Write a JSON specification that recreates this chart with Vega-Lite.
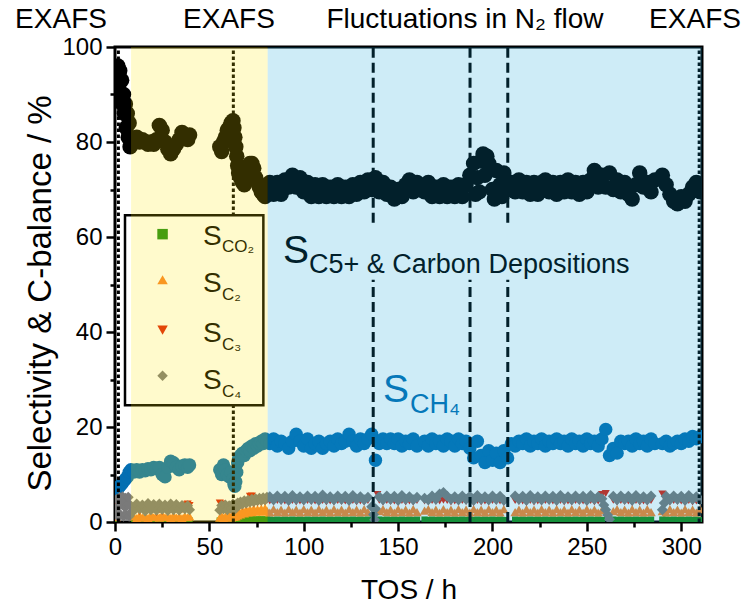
{
"$schema": "https://vega.github.io/schema/vega-lite/v6.json",
"width": 587, "height": 475,
"autosize": {"type": "none"},
"padding": {"left": 115, "top": 47, "right": 42, "bottom": 89},
"background": "white",
"config": {"font": "Liberation Sans", "view": {"stroke": "#000000", "strokeWidth": 3}},
"resolve": {"axis": {"y": "independent"}},
"datasets": {
"series": [
{"TOS":0.5,"C5":93,"CH4":6.5,"C4":2.5,"C3":4,"C2":1,"CO2":0.3},
{"TOS":1,"C5":95.5,"C4":4.8},
{"TOS":1.5,"C5":96,"CH4":7,"C4":1.2,"C3":2.8},
{"TOS":2,"C5":92,"C4":3.5},
{"TOS":2.5,"C5":95,"CH4":7.5,"C4":5.2},
{"TOS":3,"C5":90,"C4":1.5},
{"TOS":3.5,"C5":93,"CH4":8,"C4":3.8},
{"TOS":4,"C5":88,"C4":5.3},
{"TOS":4.5,"C5":90,"CH4":8.5,"C4":1.2},
{"TOS":5,"C5":86,"C4":3.2},
{"TOS":5.5,"C5":88,"CH4":9,"C4":5},
{"TOS":6,"C5":83,"C4":1.5},
{"TOS":6.5,"C5":86,"CH4":9.5,"C4":3.5},
{"TOS":7,"C5":81,"C4":5.2},
{"TOS":7.5,"C5":84,"CH4":10.5,"C4":1.2},
{"TOS":8,"C5":79,"C4":3.6},
{"TOS":8.5,"C5":80,"CH4":11,"C4":2},
{"TOS":10,"C5":80.5,"CH4":10.5,"C4":2.4,"C3":2.0,"C2":1.2,"CO2":0.3},
{"TOS":11.5,"C5":81,"CH4":11,"C4":3.8,"C3":2.6,"C2":0.8,"CO2":0.3},
{"TOS":13,"C5":80,"CH4":10.5,"C4":2.8,"C3":2.2,"C2":1.4,"CO2":0.3},
{"TOS":14.5,"C5":80.5,"CH4":11,"C4":3.6,"C3":2.8,"C2":0.9,"CO2":0.3},
{"TOS":16,"C5":80,"CH4":10.8,"C4":2.3,"C3":2.1,"C2":1.3,"CO2":0.3},
{"TOS":17.5,"C5":79.5,"CH4":11.2,"C4":3.9,"C3":2.5,"C2":0.8,"CO2":0.3},
{"TOS":19,"C5":80,"CH4":11,"C4":2.6,"C3":2.3,"C2":1.5,"CO2":0.3},
{"TOS":20.5,"C5":79.5,"CH4":11.5,"C4":3.7,"C3":2.7,"C2":1.0,"CO2":0.3},
{"TOS":22,"C5":80.5,"CH4":11.2,"C4":2.5,"C3":2.0,"C2":1.4,"CO2":0.3},
{"TOS":23.5,"C5":83.5,"CH4":11.5,"C4":3.8,"C3":2.6,"C2":0.9,"CO2":0.3},
{"TOS":25,"C5":82.5,"CH4":10,"C4":2.7,"C3":2.2,"C2":1.5,"CO2":0.3},
{"TOS":26.5,"C5":80,"CH4":9.5,"C4":3.6,"C3":2.8,"C2":1.0,"CO2":0.3},
{"TOS":28,"C5":78.5,"CH4":11.5,"C4":2.4,"C3":2.1,"C2":1.3,"CO2":0.3},
{"TOS":29.5,"C5":77.5,"CH4":12.8,"C4":3.8,"C3":2.5,"C2":0.8,"CO2":0.3},
{"TOS":31,"C5":78.5,"CH4":12.5,"C4":2.6,"C3":2.3,"C2":1.4,"CO2":0.3},
{"TOS":32.5,"C5":79.5,"CH4":11.5,"C4":3.7,"C3":2.7,"C2":0.9,"CO2":0.3},
{"TOS":34,"C5":80.5,"CH4":11,"C4":2.5,"C3":2.1,"C2":1.2,"CO2":0.3},
{"TOS":35.5,"C5":82,"CH4":11.8,"C4":3.5,"C3":2.6,"C2":0.8,"CO2":0.3},
{"TOS":37,"C5":81.5,"CH4":12,"C4":2.8,"C3":3.6,"C2":1.3,"CO2":0.3},
{"TOS":38.5,"C5":80.5,"CH4":11.5,"C4":3.4,"C3":3.8,"C2":1.0,"CO2":0.3},
{"TOS":39.5,"C5":81.5,"CH4":12,"C4":2.6,"C3":3.5,"C2":1.2,"CO2":0.3},
{"TOS":55.5,"C5":79,"CH4":11,"C4":2.5,"C3":4.0,"C2":0.9,"CO2":0.3},
{"TOS":56.5,"C5":78,"CH4":10,"C4":3.5,"C3":3.8,"C2":1.3,"CO2":0.3},
{"TOS":57.5,"C5":80,"CH4":12,"C4":2.8,"C3":2.4,"C2":0.8,"CO2":0.3},
{"TOS":58.5,"C5":81,"CH4":11,"C4":3.6,"C3":3.0,"C2":1.2,"CO2":0.3},
{"TOS":59.5,"C5":82.5,"CH4":10,"C4":2.6,"C3":2.2,"C2":1.0,"CO2":0.3},
{"TOS":60.5,"C5":83,"CH4":9.5,"C4":3.4,"C3":2.9,"C2":1.4,"CO2":0.3},
{"TOS":61.5,"C5":84,"CH4":10.5,"C4":2.9,"C3":2.4,"C2":0.9,"CO2":0.3},
{"TOS":62.5,"C5":84.5,"CH4":9,"C4":3.8,"C3":3.2,"C2":1.5,"CO2":0.3},
{"TOS":63,"C5":83,"CH4":8,"C4":3.2,"C3":2.8,"C2":1.1,"CO2":0.3},
{"TOS":63.5,"C5":81,"CH4":7.5,"C4":2.7,"C3":2.3,"C2":1.6,"CO2":0.3},
{"TOS":64,"C5":79,"CH4":8.5,"C4":3.6,"C3":3.1,"C2":1.2,"CO2":0.4},
{"TOS":64.5,"C5":77,"CH4":10.5,"C4":3.1,"C3":2.7,"C2":1.9,"CO2":0.4},
{"TOS":65,"C5":75,"CH4":12.5,"C4":4.0,"C3":3.4,"C2":1.4,"CO2":0.4},
{"TOS":65.5,"C5":73.5,"CH4":13.5,"C4":3.5,"C3":3.0,"C2":2.2,"CO2":0.4},
{"TOS":66.5,"C5":72.5,"CH4":14,"C4":4.2,"C3":3.7,"C2":1.6,"CO2":0.4},
{"TOS":67.5,"C5":71.5,"CH4":14.5,"C4":3.8,"C3":3.3,"C2":2.4,"CO2":0.5},
{"TOS":68.5,"C5":71,"CH4":14,"C4":4.5,"C3":3.9,"C2":1.8,"CO2":0.5},
{"TOS":69.5,"C5":72,"CH4":15,"C4":4.0,"C3":3.5,"C2":2.6,"CO2":0.5},
{"TOS":70.5,"C5":74,"CH4":15.5,"C4":4.6,"C3":4.0,"C2":2.0,"CO2":0.5},
{"TOS":71.5,"C5":75.5,"CH4":15,"C4":4.2,"C3":5.4,"C2":2.7,"CO2":0.5},
{"TOS":72.5,"C5":75.5,"CH4":16,"C4":4.8,"C3":5.5,"C2":2.1,"CO2":0.5},
{"TOS":73.5,"C5":74.5,"CH4":15.5,"C4":4.3,"C3":3.8,"C2":2.8,"CO2":0.5},
{"TOS":74.5,"C5":72.5,"CH4":16.5,"C4":4.9,"C3":4.3,"C2":2.2,"CO2":0.5},
{"TOS":75.5,"C5":71.5,"CH4":16,"C4":4.5,"C3":4.0,"C2":2.7,"CO2":0.5},
{"TOS":76.5,"C5":70.5,"CH4":16.5,"C4":5.0,"C3":4.4,"C2":2.3,"CO2":0.5},
{"TOS":77.5,"C5":69.5,"CH4":17,"C4":4.6,"C3":4.1,"C2":2.8,"CO2":0.5},
{"TOS":78.5,"C5":69,"CH4":16.5,"C4":5.1,"C3":4.5,"C2":2.2,"CO2":0.5},
{"TOS":79.5,"C5":68.5,"CH4":17.5,"C4":4.7,"C3":4.2,"C2":2.9,"CO2":0.5},
{"TOS":80.5,"C5":69.5,"CH4":17,"C4":5.2,"C3":4.6,"C2":2.4,"CO2":0.5},
{"TOS":82,"C5":71.5,"CH4":16.5,"C4":5.3,"C3":4.4,"C2":2.0,"CO2":0.5},
{"TOS":84,"C5":69,"CH4":17.5,"C4":4.7,"C3":4.2,"C2":2.7,"CO2":0.4},
{"TOS":86,"C5":71.5,"CH4":16,"C4":5.5,"C3":4.5,"C2":2.1,"CO2":0.5},
{"TOS":88,"C5":69,"CH4":17,"C4":4.8,"C3":4.3,"C2":2.6,"CO2":0.4},
{"TOS":90,"C5":72,"CH4":16.5,"C4":5.4,"C3":4.4,"C2":2.0,"CO2":0.5},
{"TOS":92,"C5":70.5,"CH4":15.5,"C4":4.6,"C3":4.1,"C2":2.7,"CO2":0.4},
{"TOS":94,"C5":73,"CH4":17,"C4":5.6,"C3":4.5,"C2":2.1,"CO2":0.5},
{"TOS":96,"C5":70.5,"CH4":18.5,"C4":4.8,"C3":4.2,"C2":2.6,"CO2":0.4},
{"TOS":98,"C5":72.5,"CH4":17,"C4":5.3,"C3":4.4,"C2":2.0,"CO2":0.5},
{"TOS":100,"C5":69.5,"CH4":16,"C4":4.7,"C3":4.2,"C2":2.7,"CO2":0.4},
{"TOS":102,"C5":71.5,"CH4":17.5,"C4":5.5,"C3":4.5,"C2":2.1,"CO2":0.5},
{"TOS":104,"C5":68.5,"CH4":15.5,"C4":4.8,"C3":4.3,"C2":2.6,"CO2":0.4},
{"TOS":106,"C5":71,"CH4":16.5,"C4":5.4,"C3":4.4,"C2":2.0,"CO2":0.5},
{"TOS":108,"C5":68.5,"CH4":17,"C4":4.6,"C3":4.1,"C2":2.7,"CO2":0.4},
{"TOS":110,"C5":71,"CH4":15.5,"C4":5.7,"C3":4.5,"C2":2.1,"CO2":0.5},
{"TOS":112,"C5":68.5,"CH4":16.5,"C4":4.8,"C3":4.2,"C2":2.6,"CO2":0.4},
{"TOS":114,"C5":70.5,"CH4":17,"C4":5.3,"C3":4.4,"C2":2.0,"CO2":0.5},
{"TOS":116,"C5":68.5,"CH4":16,"C4":4.7,"C3":4.2,"C2":2.7,"CO2":0.4},
{"TOS":118,"C5":71,"CH4":17.5,"C4":5.5,"C3":4.5,"C2":2.1,"CO2":0.5},
{"TOS":120,"C5":68.5,"CH4":16.5,"C4":4.8,"C3":4.3,"C2":2.6,"CO2":0.4},
{"TOS":122,"C5":70.5,"CH4":17,"C4":5.4,"C3":4.4,"C2":2.0,"CO2":0.5},
{"TOS":124,"C5":68.5,"CH4":18.5,"C4":4.6,"C3":4.1,"C2":2.7,"CO2":0.4},
{"TOS":126,"C5":71,"CH4":17,"C4":5.6,"C3":4.5,"C2":2.1,"CO2":0.5},
{"TOS":128,"C5":69,"CH4":16,"C4":4.8,"C3":4.2,"C2":2.6,"CO2":0.4},
{"TOS":130,"C5":71.5,"CH4":17.5,"C4":5.3,"C3":4.4,"C2":2.0,"CO2":0.5},
{"TOS":132,"C5":69.5,"CH4":16.5,"C4":4.7,"C3":4.2,"C2":2.7,"CO2":0.4},
{"TOS":134,"C5":72,"CH4":17.5,"C4":5.2,"C3":4.5,"C2":2.1,"CO2":0.5},
{"TOS":136,"C5":70,"CH4":18.5,"C4":3.2},
{"TOS":137,"C4":1.6},
{"TOS":137.5,"C4":0.5},
{"TOS":138,"C5":72.5,"CH4":13,"C4":2.8},
{"TOS":139,"C3":5.8},
{"TOS":140,"C5":69.5,"CH4":16.5,"C4":5.3,"C3":4.6,"C2":2.3,"CO2":0.5},
{"TOS":142,"C5":71.5,"CH4":17.5,"C4":4.7,"C3":4.2,"C2":2.7,"CO2":0.4},
{"TOS":144,"C5":69,"CH4":16.5,"C4":5.5,"C3":4.5,"C2":2.1,"CO2":0.5},
{"TOS":146,"C5":70.5,"CH4":17.5,"C4":4.8,"C3":4.3,"C2":2.6,"CO2":0.4},
{"TOS":148,"C5":68,"CH4":16.5,"C4":5.4,"C3":4.4,"C2":2.0,"CO2":0.5},
{"TOS":150,"C5":70,"CH4":17.5,"C4":4.6,"C3":4.1,"C2":2.7,"CO2":0.4},
{"TOS":152,"C5":68.5,"CH4":16,"C4":5.6,"C3":4.5,"C2":2.1,"CO2":0.5},
{"TOS":154,"C5":71,"CH4":17,"C4":4.8,"C3":4.2,"C2":2.6,"CO2":0.4},
{"TOS":156,"C5":72,"CH4":16.5,"C4":5.3,"C3":4.4,"C2":2.0,"CO2":0.5},
{"TOS":158,"C5":69.5,"CH4":17.5,"C4":4.7,"C3":4.2,"C2":2.7,"CO2":0.4},
{"TOS":160,"C5":71.5,"CH4":16,"C4":5.2,"C3":4.5,"C2":2.1,"CO2":0.5},
{"TOS":164,"C5":69.5,"CH4":17,"C4":5.0,"C3":4.4,"C2":2.4,"CO2":0.5},
{"TOS":166,"C5":71.5,"CH4":16,"C4":4.7,"C3":4.2,"C2":2.7,"CO2":0.4},
{"TOS":168,"C5":68.5,"CH4":17.5,"C4":5.5,"C3":4.5,"C2":2.1,"CO2":0.5},
{"TOS":170,"C5":70.5,"CH4":16.5,"C4":4.8,"C3":4.3,"C2":2.6,"CO2":0.4},
{"TOS":172,"C5":68.5,"CH4":17,"C4":5.9,"C3":4.4,"C2":2.0,"CO2":0.5},
{"TOS":174,"C5":71,"CH4":16,"C4":6.2,"C3":4.6,"C2":2.7,"CO2":0.4},
{"TOS":176,"C5":68.5,"CH4":17.5,"C4":5.4,"C3":4.5,"C2":2.1,"CO2":0.5},
{"TOS":178,"C5":70.5,"CH4":17,"C4":4.8,"C3":4.2,"C2":2.6,"CO2":0.4},
{"TOS":180,"C5":68.5,"CH4":16,"C4":5.3,"C3":4.4,"C2":2.0,"CO2":0.5},
{"TOS":182,"C5":71,"CH4":17.5,"C4":4.7,"C3":4.2,"C2":2.7,"CO2":0.4},
{"TOS":184,"C5":68.5,"CH4":16.5,"C4":5.5,"C3":4.5,"C2":2.1,"CO2":0.5},
{"TOS":186,"C5":71,"CH4":17,"C4":4.8,"C3":4.3,"C2":2.6,"CO2":0.4},
{"TOS":188,"C5":73,"CH4":15.5,"C4":5.4,"C3":4.4,"C2":2.0,"CO2":0.5},
{"TOS":190,"C5":75.5,"CH4":13.5,"C4":4.6,"C3":4.1,"C2":2.7,"CO2":0.4},
{"TOS":191,"C5":69},
{"TOS":192,"C5":72.5,"CH4":17,"C4":5.6,"C3":4.5,"C2":2.1,"CO2":0.5},
{"TOS":193,"C5":69.5},
{"TOS":194,"C5":76,"CH4":14,"C4":4.8,"C3":4.2,"C2":2.6,"CO2":0.4},
{"TOS":195,"C5":77.5},
{"TOS":196,"C5":73,"CH4":12.5,"C4":5.3,"C3":4.4,"C2":2.0,"CO2":0.5},
{"TOS":197,"C5":77},
{"TOS":198,"C5":75.5,"CH4":15,"C4":4.7,"C3":4.2,"C2":2.7,"CO2":0.4},
{"TOS":200,"C5":70,"CH4":13,"C4":5.5,"C3":4.5,"C2":2.1,"CO2":0.5},
{"TOS":201,"C5":68},
{"TOS":202,"C5":74,"CH4":14.5,"C4":4.8,"C3":4.3,"C2":2.6,"CO2":0.4},
{"TOS":204,"C5":71,"CH4":12.5,"C4":5.4,"C3":4.4,"C2":2.0,"CO2":0.5},
{"TOS":205,"C5":68.5},
{"TOS":206,"C5":73.5,"CH4":15,"C4":4.6,"C3":4.1,"C2":2.7,"CO2":0.4},
{"TOS":208,"C5":71,"CH4":13.5},
{"TOS":210,"C5":71.5,"CH4":16.5},
{"TOS":212,"C5":69.5,"CH4":16,"C4":5.5,"C3":4.5,"C2":2.1,"CO2":0.5},
{"TOS":214,"C5":72,"CH4":17,"C4":4.8,"C3":4.3,"C2":2.6,"CO2":0.4},
{"TOS":216,"C5":69.5,"CH4":16.5,"C4":5.4,"C3":4.4,"C2":2.0,"CO2":0.5},
{"TOS":218,"C5":71.5,"CH4":17.5,"C4":4.6,"C3":4.1,"C2":2.7,"CO2":0.4},
{"TOS":220,"C5":69,"CH4":16,"C4":5.6,"C3":4.5,"C2":2.1,"CO2":0.5},
{"TOS":222,"C5":71.5,"CH4":17,"C4":4.8,"C3":4.2,"C2":2.6,"CO2":0.4},
{"TOS":224,"C5":69,"CH4":16.5,"C4":5.3,"C3":4.4,"C2":2.0,"CO2":0.5},
{"TOS":226,"C5":71.5,"CH4":17.5,"C4":4.7,"C3":4.2,"C2":2.7,"CO2":0.4},
{"TOS":228,"C5":72,"CH4":16,"C4":5.5,"C3":4.5,"C2":2.1,"CO2":0.5},
{"TOS":230,"C5":69.5,"CH4":17,"C4":4.8,"C3":4.3,"C2":2.6,"CO2":0.4},
{"TOS":232,"C5":71.5,"CH4":16.5,"C4":5.4,"C3":4.4,"C2":2.0,"CO2":0.5},
{"TOS":234,"C5":69,"CH4":17.5,"C4":4.6,"C3":4.1,"C2":2.7,"CO2":0.4},
{"TOS":236,"C5":71.5,"CH4":16.5,"C4":5.6,"C3":4.5,"C2":2.1,"CO2":0.5},
{"TOS":238,"C5":69.5,"CH4":17,"C4":4.8,"C3":4.2,"C2":2.6,"CO2":0.4},
{"TOS":240,"C5":72,"CH4":16,"C4":5.3,"C3":4.4,"C2":2.0,"CO2":0.5},
{"TOS":242,"C5":69.5,"CH4":17.5,"C4":4.7,"C3":4.2,"C2":2.7,"CO2":0.4},
{"TOS":244,"C5":71.5,"CH4":16.5,"C4":5.5,"C3":4.5,"C2":2.1,"CO2":0.5},
{"TOS":246,"C5":69,"CH4":17,"C4":4.8,"C3":4.3,"C2":2.6,"CO2":0.4},
{"TOS":248,"C5":71.5,"CH4":16,"C4":5.4,"C3":4.4,"C2":2.0,"CO2":0.5},
{"TOS":250,"C5":69.5,"CH4":17.5,"C4":4.6,"C3":4.1,"C2":2.7,"CO2":0.4},
{"TOS":252,"C5":72,"CH4":16.5,"C4":5.6,"C3":4.5,"C2":2.1,"CO2":0.5},
{"TOS":254,"C5":74,"CH4":17,"C4":4.8,"C3":4.2,"C2":2.6,"CO2":0.4},
{"TOS":256,"C5":70.5,"CH4":16,"C4":5.3,"C3":4.4,"C2":2.0,"CO2":0.5},
{"TOS":258,"C5":73,"CH4":17.5,"C4":4.9,"C3":5.8,"C2":2.5,"CO2":0.4},
{"TOS":259,"C4":3.6},
{"TOS":260,"C5":70.5,"CH4":19.5,"C4":2.6,"C3":6.0},
{"TOS":261,"C4":1.5},
{"TOS":262,"C5":73.5,"CH4":14,"C4":0.6},
{"TOS":264,"C5":70,"CH4":15.5,"C4":5.4,"C3":4.6,"C2":2.3,"CO2":0.5},
{"TOS":266,"C5":72,"CH4":14.5,"C4":4.7,"C3":4.2,"C2":2.7,"CO2":0.4},
{"TOS":268,"C5":69.5,"CH4":17,"C4":5.5,"C3":4.5,"C2":2.1,"CO2":0.5},
{"TOS":270,"C5":71.5,"CH4":16.5,"C4":4.8,"C3":4.3,"C2":2.6,"CO2":0.4},
{"TOS":272,"C5":69,"CH4":17,"C4":5.4,"C3":4.4,"C2":2.0,"CO2":0.5},
{"TOS":274,"C5":68,"CH4":16,"C4":4.6,"C3":4.1,"C2":2.7,"CO2":0.4},
{"TOS":276,"C5":71,"CH4":17.5,"C4":5.6,"C3":4.5,"C2":2.1,"CO2":0.5},
{"TOS":278,"C5":73.5,"CH4":16.5,"C4":4.8,"C3":4.2,"C2":2.6,"CO2":0.4},
{"TOS":280,"C5":70.5,"CH4":17,"C4":5.3,"C3":4.4,"C2":2.0,"CO2":0.5},
{"TOS":282,"C5":71.5,"CH4":16,"C4":4.7,"C3":4.2,"C2":2.7,"CO2":0.4},
{"TOS":284,"C5":69.5,"CH4":17.5,"C4":5.5,"C3":4.5,"C2":2.1,"CO2":0.5},
{"TOS":286,"C5":72,"CH4":16.5},
{"TOS":290,"C5":73,"CH4":16.5,"C4":2.6,"C3":5.9,"C2":2.3,"CO2":0.5},
{"TOS":291,"C4":4.0},
{"TOS":292,"C5":71,"CH4":17,"C4":5.4,"C3":4.4,"C2":2.0,"CO2":0.5},
{"TOS":294,"C5":69,"CH4":16,"C4":4.7,"C3":4.2,"C2":2.7,"CO2":0.4},
{"TOS":296,"C5":67.5,"CH4":16.5,"C4":5.5,"C3":4.5,"C2":2.1,"CO2":0.5},
{"TOS":298,"C5":67,"CH4":17,"C4":4.8,"C3":4.3,"C2":2.6,"CO2":0.4},
{"TOS":300,"C5":68.5,"CH4":16.5,"C4":5.4,"C3":4.4,"C2":2.0,"CO2":0.5},
{"TOS":302,"C5":67.5,"CH4":17.5,"C4":4.6,"C3":4.1,"C2":2.7,"CO2":0.4},
{"TOS":304,"C5":69,"CH4":17,"C4":5.6,"C3":4.5,"C2":2.1,"CO2":0.5},
{"TOS":306,"C5":70.5,"CH4":18,"C4":4.8,"C3":4.2,"C2":2.6,"CO2":0.4},
{"TOS":308,"C5":71.5,"CH4":17.5,"C4":5.3,"C3":4.4,"C2":2.0,"CO2":0.5},
{"TOS":310,"C5":69.5,"CH4":18,"C4":4.7,"C3":4.2,"C2":2.7,"CO2":0.4}
],
"dotted": [{"TOS":1.8,"lo":0,"hi":100},{"TOS":62.7,"lo":0,"hi":100},{"TOS":309.5,"lo":0,"hi":100}],
"dashed": [{"TOS":136.8,"lo":0,"hi":51},{"TOS":136.8,"lo":63,"hi":100},{"TOS":188.1,"lo":0,"hi":51},{"TOS":188.1,"lo":63,"hi":100},{"TOS":208.1,"lo":0,"hi":51},{"TOS":208.1,"lo":63,"hi":100}],
"zoneYellow": [{"TOS":8.5,"TOS_end":80.9}],
"zoneBlue": [{"TOS":80.9,"TOS_end":311}],
"legendBox": [{"TOS":5.3,"TOS_end":78.6}],
"legendSymbols": [{"TOS":25.2,"v":60.6,"series":"CO2"},{"TOS":25.2,"v":51,"series":"C2"},{"TOS":25.2,"v":40.4,"series":"C3"},{"TOS":25.2,"v":30.8,"series":"C4"}],
"legendS": [{"TOS":46.6,"v":58.3,"label":"S"},{"TOS":46.6,"v":48.5,"label":"S"},{"TOS":46.6,"v":38,"label":"S"},{"TOS":46.6,"v":28.1,"label":"S"}],
"legendSub": [{"TOS":56.7,"v":56.8,"label":"CO₂"},{"TOS":56.7,"v":46.7,"label":"C₂"},{"TOS":56.7,"v":36.2,"label":"C₃"},{"TOS":56.7,"v":26.4,"label":"C₄"}],
"bigS": [{"TOS":89,"v":54.5,"label":"S","series":"C5"},{"TOS":142,"v":25.3,"label":"S","series":"CH4"}],
"bigSub": [{"TOS":102.8,"v":52.4,"label":"C5+ & Carbon Depositions","series":"C5"},{"TOS":156.3,"v":22.9,"label":"CH₄","series":"CH4"}],
"tops": [{"TOS":-28.6,"v":104.0,"label":"EXAFS"},{"TOS":60.4,"v":104.0,"label":"EXAFS"},{"TOS":185.4,"v":104.0,"label":"Fluctuations in N₂ flow"},{"TOS":307.3,"v":104.0,"label":"EXAFS"}]
},
"encoding": {
"x": {"field": "TOS", "type": "quantitative",
 "scale": {"domain": [0, 311], "nice": false, "zero": false},
 "axis": {"values": [0,25,50,75,100,125,150,175,200,225,250,275,300],
  "labelExpr": "datum.value % 50 === 0 ? datum.label : ''",
  "tickSize": {"condition": {"test": "datum.value % 50 === 0", "value": 9}, "value": 5},
  "tickWidth": 2.5, "tickColor": "#000000", "domain": false, "grid": false,
  "labelFontSize": 24, "labelColor": "#000000", "labelPadding": 4, "labelFlush": false, "labelOverlap": false,
  "title": "TOS / h", "titleFontSize": 28, "titleFontWeight": "normal", "titleColor": "#000000", "titlePadding": 17}}
},
"layer": [
{"data": {"name": "series"},
 "mark": {"type": "circle", "size": 240, "color": "#000000", "opacity": 1, "clip": true},
 "encoding": {"y": {"field": "C5", "type": "quantitative",
  "scale": {"domain": [0, 100], "nice": false, "zero": false},
  "axis": {"orient": "left", "values": [0,10,20,30,40,50,60,70,80,90,100],
   "labelExpr": "datum.value % 20 === 0 ? datum.label : ''",
   "tickSize": {"condition": {"test": "datum.value % 20 === 0", "value": 9}, "value": 5},
   "tickWidth": 2.5, "tickColor": "#000000", "domain": false, "grid": false,
   "labelFontSize": 24, "labelColor": "#000000", "labelPadding": 4, "labelFlush": false, "labelOverlap": false,
   "title": "Selectivity & C-balance / %", "titleFontSize": 33, "titleFontWeight": "normal", "titleColor": "#000000", "titlePadding": 4, "titleY": 246}}}},
{"data": {"name": "series"},
 "mark": {"type": "circle", "size": 180, "color": "#046eb2", "opacity": 1, "clip": true},
 "encoding": {"y": {"field": "CH4", "type": "quantitative", "scale": {"domain": [0, 100], "nice": false, "zero": false}, "axis": null}}},
{"data": {"name": "series"},
 "mark": {"type": "point", "shape": "square", "filled": true, "size": 40, "color": "#1a8c14", "opacity": 1, "clip": true},
 "encoding": {"y": {"field": "CO2", "type": "quantitative", "scale": {"domain": [0, 100], "nice": false, "zero": false}, "axis": null}}},
{"data": {"name": "series"},
 "mark": {"type": "point", "shape": "triangle-up", "filled": true, "size": 90, "color": "#f8842a", "opacity": 1, "clip": true},
 "encoding": {"y": {"field": "C2", "type": "quantitative", "scale": {"domain": [0, 100], "nice": false, "zero": false}, "axis": null}}},
{"data": {"name": "series"},
 "mark": {"type": "point", "shape": "triangle-down", "filled": true, "size": 65, "color": "#dc1e0a", "opacity": 1, "clip": true},
 "encoding": {"y": {"field": "C3", "type": "quantitative", "scale": {"domain": [0, 100], "nice": false, "zero": false}, "axis": null}}},
{"data": {"name": "series"},
 "mark": {"type": "point", "shape": "diamond", "filled": true, "size": 120, "color": "#7a7a7a", "opacity": 1, "clip": true},
 "encoding": {"y": {"field": "C4", "type": "quantitative", "scale": {"domain": [0, 100], "nice": false, "zero": false}, "axis": null}}},
{"data": {"name": "dotted"},
 "mark": {"type": "rule", "color": "#000000", "strokeWidth": 3, "strokeDash": [3.5, 2.5]},
 "encoding": {"y": {"field": "lo", "type": "quantitative", "scale": {"domain": [0, 100], "nice": false, "zero": false}, "axis": null}, "y2": {"field": "hi"}}},
{"data": {"name": "dashed"},
 "mark": {"type": "rule", "color": "#000000", "strokeWidth": 3, "strokeDash": [10, 5]},
 "encoding": {"y": {"field": "lo", "type": "quantitative", "scale": {"domain": [0, 100], "nice": false, "zero": false}, "axis": null}, "y2": {"field": "hi"}}},
{"data": {"name": "legendBox"},
 "mark": {"type": "rect", "fill": "#ffffff", "stroke": "#000000", "strokeWidth": 2.5},
 "encoding": {"x2": {"field": "TOS_end"}, "y": {"datum": 24.6, "type": "quantitative", "scale": {"domain": [0, 100], "nice": false, "zero": false}, "axis": null}, "y2": {"datum": 64.6}}},
{"data": {"name": "legendSymbols"},
 "mark": {"type": "point", "filled": true, "size": 110, "opacity": 1},
 "encoding": {"y": {"field": "v", "type": "quantitative", "scale": {"domain": [0, 100], "nice": false, "zero": false}, "axis": null},
  "color": {"field": "series", "type": "nominal", "scale": {"domain": ["CO2","C2","C3","C4"], "range": ["#1a8c14","#f8842a","#dc1e0a","#7a7a7a"]}, "legend": null},
  "shape": {"field": "series", "type": "nominal", "scale": {"domain": ["CO2","C2","C3","C4"], "range": ["square","triangle-up","triangle-down","diamond"]}, "legend": null}}},
{"data": {"name": "legendS"},
 "mark": {"type": "text", "align": "left", "baseline": "alphabetic", "fontSize": 28, "color": "#000000"},
 "encoding": {"y": {"field": "v", "type": "quantitative", "scale": {"domain": [0, 100], "nice": false, "zero": false}, "axis": null}, "text": {"field": "label"}}},
{"data": {"name": "legendSub"},
 "mark": {"type": "text", "align": "left", "baseline": "alphabetic", "fontSize": 17, "color": "#000000"},
 "encoding": {"y": {"field": "v", "type": "quantitative", "scale": {"domain": [0, 100], "nice": false, "zero": false}, "axis": null}, "text": {"field": "label"}}},
{"data": {"name": "bigS"},
 "mark": {"type": "text", "align": "left", "baseline": "alphabetic", "fontSize": 39},
 "encoding": {"y": {"field": "v", "type": "quantitative", "scale": {"domain": [0, 100], "nice": false, "zero": false}, "axis": null}, "text": {"field": "label"},
  "fill": {"field": "series", "type": "nominal", "scale": {"domain": ["C5","CH4"], "range": ["#000000","#046eb2"]}, "legend": null}}},
{"data": {"name": "bigSub"},
 "mark": {"type": "text", "align": "left", "baseline": "alphabetic", "fontSize": 27},
 "encoding": {"y": {"field": "v", "type": "quantitative", "scale": {"domain": [0, 100], "nice": false, "zero": false}, "axis": null}, "text": {"field": "label"},
  "fill": {"field": "series", "type": "nominal", "scale": {"domain": ["C5","CH4"], "range": ["#000000","#046eb2"]}, "legend": null}}},
{"data": {"name": "zoneYellow"},
 "mark": {"type": "rect", "fill": "#ffe600", "fillOpacity": 0.2},
 "encoding": {"x2": {"field": "TOS_end"}, "y": {"datum": 0, "type": "quantitative", "scale": {"domain": [0, 100], "nice": false, "zero": false}, "axis": null}, "y2": {"datum": 100}}},
{"data": {"name": "zoneBlue"},
 "mark": {"type": "rect", "fill": "#0aa0d7", "fillOpacity": 0.2},
 "encoding": {"x2": {"field": "TOS_end"}, "y": {"datum": 0, "type": "quantitative", "scale": {"domain": [0, 100], "nice": false, "zero": false}, "axis": null}, "y2": {"datum": 100}}},
{"data": {"name": "tops"},
 "mark": {"type": "text", "align": "center", "baseline": "alphabetic", "fontSize": 28, "color": "#000000", "clip": false},
 "encoding": {"y": {"field": "v", "type": "quantitative", "scale": {"domain": [0, 100], "nice": false, "zero": false}, "axis": null}, "text": {"field": "label"}}}
]
}
